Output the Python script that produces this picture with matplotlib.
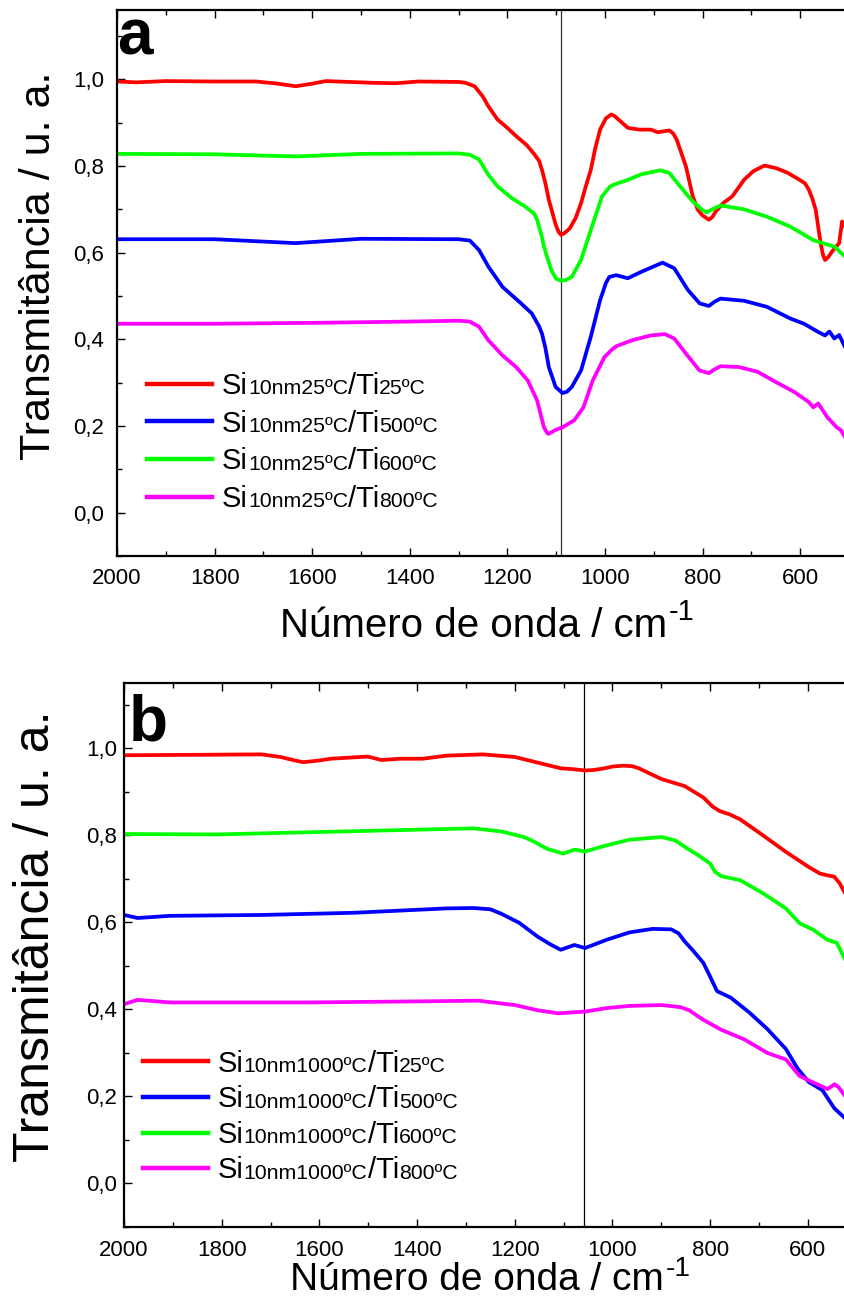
import matplotlib
matplotlib.use("Agg")
import matplotlib.pyplot as plt
from matplotlib.ticker import MultipleLocator
from matplotlib.lines import Line2D

plt.rcParams['font.family'] = ['Liberation Sans', 'DejaVu Sans']
plt.rcParams['mathtext.default'] = 'regular'

# ---------------- Panel a data (wavenumber, transmittance) ----------------
a_red_x = [2000, 1960, 1900, 1800, 1715, 1670, 1634, 1600, 1572, 1477, 1429, 1382, 1300, 1286, 1267,
           1250, 1239, 1220, 1200, 1182, 1160, 1144, 1135, 1129, 1122, 1115, 1101, 1095, 1090, 1083,
           1072, 1060, 1049, 1040, 1029, 1020, 1010, 998, 987, 980, 972, 953, 930, 906, 892, 868, 860,
           853, 845, 834, 820, 810, 801, 787, 780, 773, 758, 739, 725, 715, 696, 673, 649, 625, 601,
           590, 582, 575, 568, 563, 558, 553, 549, 542, 535, 520, 514, 508]
a_red_y = [0.995, 0.993, 0.996, 0.995, 0.995, 0.99, 0.984, 0.99, 0.996, 0.992, 0.991, 0.995, 0.994,
           0.992, 0.984, 0.96, 0.938, 0.907, 0.888, 0.869, 0.848, 0.826, 0.812, 0.791, 0.76, 0.722,
           0.665, 0.648, 0.641, 0.645, 0.656, 0.68, 0.714, 0.75, 0.791, 0.84, 0.884, 0.91, 0.919,
           0.915, 0.907, 0.888, 0.884, 0.884, 0.878, 0.882, 0.875, 0.861, 0.835, 0.799, 0.73, 0.7,
           0.687, 0.676, 0.682, 0.695, 0.714, 0.73, 0.752, 0.768, 0.788, 0.801, 0.795, 0.784, 0.768,
           0.76, 0.745, 0.725, 0.699, 0.66, 0.622, 0.595, 0.583, 0.59, 0.602, 0.622, 0.672, 0.66]

a_green_x = [2000, 1800, 1634, 1500, 1300, 1277, 1258, 1239, 1220, 1191, 1163, 1145, 1139, 1130, 1125,
             1110, 1100, 1090, 1080, 1068, 1049, 1029, 1006, 990, 982, 953, 925, 887, 868, 849, 820,
             800, 792, 780, 763, 715, 668, 620, 573, 554, 530, 508]
a_green_y = [0.828, 0.827, 0.822, 0.828, 0.829, 0.826, 0.815, 0.78, 0.753, 0.726, 0.706, 0.69, 0.676,
             0.64, 0.614, 0.56, 0.54, 0.535, 0.537, 0.544, 0.583, 0.652, 0.73, 0.752, 0.757, 0.768,
             0.781, 0.79, 0.784, 0.757, 0.718, 0.698, 0.693, 0.7, 0.709, 0.7, 0.683, 0.66, 0.629,
             0.622, 0.614, 0.591]

a_blue_x = [2000, 1800, 1634, 1500, 1300, 1277, 1258, 1239, 1210, 1172, 1150, 1144, 1135, 1129, 1122,
            1115, 1101, 1087, 1078, 1068, 1049, 1029, 1010, 998, 991, 977, 953, 925, 882, 858, 830,
            806, 787, 775, 763, 715, 668, 620, 592, 563, 549, 540, 530, 520, 508]
a_blue_y = [0.631, 0.631, 0.622, 0.632, 0.631, 0.628, 0.606, 0.568, 0.521, 0.483, 0.46, 0.448, 0.43,
            0.413, 0.38, 0.336, 0.29, 0.276, 0.279, 0.29, 0.328, 0.406, 0.49, 0.53, 0.544, 0.548,
            0.541, 0.556, 0.577, 0.564, 0.514, 0.483, 0.477, 0.487, 0.494, 0.489, 0.475, 0.448,
            0.436, 0.417, 0.409, 0.418, 0.402, 0.41, 0.382]

a_mag_x = [2000, 1800, 1600, 1400, 1300, 1277, 1258, 1239, 1210, 1182, 1158, 1139, 1125, 1118, 1115,
           1101, 1087, 1063, 1044, 1025, 1001, 985, 977, 944, 906, 877, 858, 834, 806, 787, 775, 763,
           725, 687, 649, 611, 582, 573, 563, 544, 525, 516, 508]
a_mag_y = [0.436, 0.436, 0.438, 0.441, 0.443, 0.441, 0.429, 0.398, 0.363, 0.336, 0.305, 0.259,
           0.197, 0.183, 0.182, 0.191, 0.197, 0.213, 0.243, 0.305, 0.359, 0.377, 0.384, 0.398, 0.409,
           0.412, 0.402, 0.367, 0.328, 0.322, 0.331, 0.338, 0.336, 0.325, 0.301, 0.278, 0.255,
           0.243, 0.252, 0.22, 0.197, 0.19, 0.174]

# ---------------- Panel b data ----------------
b_red_x = [2000, 1850, 1718, 1680, 1650, 1633, 1600, 1577, 1501, 1473, 1435, 1388, 1341, 1266, 1200,
           1153, 1106, 1080, 1056, 1040, 1021, 1000, 979, 960, 946, 920, 899, 852, 814, 795, 781,
           760, 739, 692, 645, 598, 575, 560, 546, 535, 524]
b_red_y = [0.984, 0.985, 0.986, 0.98, 0.972, 0.968, 0.972, 0.976, 0.981, 0.973, 0.976, 0.976, 0.983,
           0.986, 0.98, 0.967, 0.954, 0.952, 0.949, 0.95, 0.953, 0.958, 0.96, 0.959, 0.954, 0.94,
           0.929, 0.913, 0.887, 0.866, 0.856, 0.848, 0.837, 0.8, 0.762, 0.727, 0.712, 0.708, 0.705,
           0.69, 0.667]

b_green_x = [2000, 1812, 1624, 1435, 1285, 1228, 1181, 1160, 1134, 1101, 1078, 1056, 1012, 965, 899,
             871, 850, 824, 800, 790, 777, 739, 692, 645, 617, 589, 560, 541, 524]
b_green_y = [0.803, 0.802, 0.807, 0.812, 0.816, 0.809, 0.796, 0.785, 0.769, 0.758, 0.767, 0.763,
             0.777, 0.79, 0.796, 0.788, 0.772, 0.754, 0.735, 0.716, 0.706, 0.697, 0.667, 0.632,
             0.598, 0.583, 0.56, 0.553, 0.515]

b_blue_x = [2000, 1972, 1906, 1718, 1530, 1341, 1285, 1250, 1228, 1191, 1153, 1125, 1106, 1078, 1056,
            1012, 965, 918, 880, 865, 852, 835, 814, 800, 786, 758, 720, 683, 645, 621, 598, 570, 546,
            524]
b_blue_y = [0.617, 0.61, 0.615, 0.617, 0.622, 0.632, 0.633, 0.63, 0.62, 0.599, 0.567, 0.548, 0.537,
            0.548, 0.541, 0.56, 0.577, 0.585, 0.584, 0.575, 0.556, 0.535, 0.507, 0.475, 0.442,
            0.427, 0.393, 0.355, 0.309, 0.264, 0.233, 0.214, 0.173, 0.15]

b_mag_x = [2000, 1972, 1906, 1624, 1435, 1275, 1200, 1153, 1111, 1056, 1012, 965, 899, 860, 843, 814,
           777, 730, 683, 645, 617, 589, 575, 560, 545, 537, 524]
b_mag_y = [0.412, 0.422, 0.416, 0.416, 0.418, 0.42, 0.41, 0.398, 0.391, 0.395, 0.403, 0.408, 0.41,
           0.405, 0.398, 0.376, 0.353, 0.331, 0.3, 0.285, 0.247, 0.232, 0.225, 0.217, 0.228, 0.221,
           0.201]

vline_a = 1090
vline_b = 1058

colors = ['#FF0000', '#0000FF', '#00FF00', '#FF00FF']
legend_a = [["Si", "10nm25ºC", "/Ti", "25ºC"],
            ["Si", "10nm25ºC", "/Ti", "500ºC"],
            ["Si", "10nm25ºC", "/Ti", "600ºC"],
            ["Si", "10nm25ºC", "/Ti", "800ºC"]]
legend_b = [["Si", "10nm1000ºC", "/Ti", "25ºC"],
            ["Si", "10nm1000ºC", "/Ti", "500ºC"],
            ["Si", "10nm1000ºC", "/Ti", "600ºC"],
            ["Si", "10nm1000ºC", "/Ti", "800ºC"]]

xticks = [2000, 1800, 1600, 1400, 1200, 1000, 800, 600]
xticklabels = ['2000', '1800', '1600', '1400', '1200', '1000', '800', '600']
yticks = [0.0, 0.2, 0.4, 0.6, 0.8, 1.0]
yticklabels = ['0,0', '0,2', '0,4', '0,6', '0,8', '1,0']

W, H = 845, 1305
fig = plt.figure(figsize=(W / 100, H / 100), dpi=100)
axA = fig.add_axes([117 / W, 1 - 556 / H, 1 - 117 / W, 546 / H])
axB = fig.add_axes([124 / W, 1 - 1227 / H, 1 - 124 / W, 544 / H])

BIG, SMALL = 21, 15.3


def style(ax, xlim, ylim, letter, letter_xy, ylab_xy, xlab_y, ylab_size, xlab_size, ypad, sup_dy):
    ax.set_xlim(*xlim)
    ax.set_ylim(*ylim)
    ax.set_xticks(xticks, labels=xticklabels)
    ax.set_yticks(yticks, labels=yticklabels)
    ax.xaxis.set_minor_locator(MultipleLocator(100))
    ax.yaxis.set_minor_locator(MultipleLocator(0.1))
    ax.tick_params(which='both', direction='in', top=True, right=False, labelsize=16, width=1.0)
    ax.tick_params(axis='y', which='major', length=6, pad=ypad)
    ax.tick_params(axis='x', which='major', length=6, pad=9)
    ax.tick_params(which='minor', length=3.5)
    for s in ['left', 'bottom', 'top']:
        ax.spines[s].set_linewidth(1.6)
    ax.spines['right'].set_visible(False)
    ax.set_ylabel('Transmitância / u. a.', fontsize=ylab_size)
    ax.yaxis.set_label_coords(*ylab_xy)
    ax.set_xlabel('Número de onda / cm', fontsize=xlab_size, va='top')
    ax.xaxis.set_label_coords(0.49, xlab_y)
    ax.annotate('-1', xy=(1, 1), xycoords=ax.xaxis.label, xytext=(1, sup_dy),
                textcoords='offset points', ha='left', va='top', fontsize=xlab_size * 0.72,
                zorder=10)
    ax.text(letter_xy[0], letter_xy[1], letter, transform=ax.transAxes, fontsize=46,
            fontweight='bold', va='baseline', ha='left')


def rich_legend(ax, handles, parts, anchor, spacing):
    leg = ax.legend(handles, [p[0] for p in parts], loc='upper left', bbox_to_anchor=anchor,
                    frameon=False, fontsize=BIG, handlelength=2.25, handletextpad=0.33,
                    labelspacing=spacing, borderpad=0, borderaxespad=0)
    for t, p in zip(leg.get_texts(), parts):
        prev, psize = t, BIG
        for i, piece in enumerate(p[1:]):
            size = SMALL if i % 2 == 0 else BIG
            an = ax.annotate(piece, xy=(1, 0), xycoords=prev,
                             xytext=(0, 0.21 * (psize - size)), textcoords='offset points',
                             ha='left', va='bottom', fontsize=size, zorder=10)
            prev, psize = an, size


# Panel a
a_series = [(a_red_x, a_red_y), (a_blue_x, a_blue_y), (a_green_x, a_green_y), (a_mag_x, a_mag_y)]
handles_a = []
for (x, y), c in zip(a_series, colors):
    axA.plot(x, y, color=c, lw=2.7, solid_joinstyle='round', solid_capstyle='round')
    handles_a.append(Line2D([], [], color=c, lw=3.2))
axA.axvline(vline_a, color='#333333', lw=0.9, zorder=1)
style(axA, (2000, 508), (-0.1, 1.16), 'a', (0.0, 0.918), (-0.080, 0.532), -0.094, 31, 29, 9, 7)
rich_legend(axA, handles_a, legend_a, (0.041, 0.337), 0.33)

# Panel b
b_series = [(b_red_x, b_red_y), (b_blue_x, b_blue_y), (b_green_x, b_green_y), (b_mag_x, b_mag_y)]
handles_b = []
for (x, y), c in zip(b_series, colors):
    axB.plot(x, y, color=c, lw=2.7, solid_joinstyle='round', solid_capstyle='round')
    handles_b.append(Line2D([], [], color=c, lw=3.2))
axB.axvline(vline_b, color='black', lw=0.9, zorder=1)
style(axB, (2000, 524), (-0.1, 1.15), 'b', (0.006, 0.895), (-0.090, 0.535), -0.064, 36, 28, 5, 4)
rich_legend(axB, handles_b, legend_b, (0.026, 0.326), 0.26)

fig.canvas.draw()
fig.savefig('out.png', dpi=100)
